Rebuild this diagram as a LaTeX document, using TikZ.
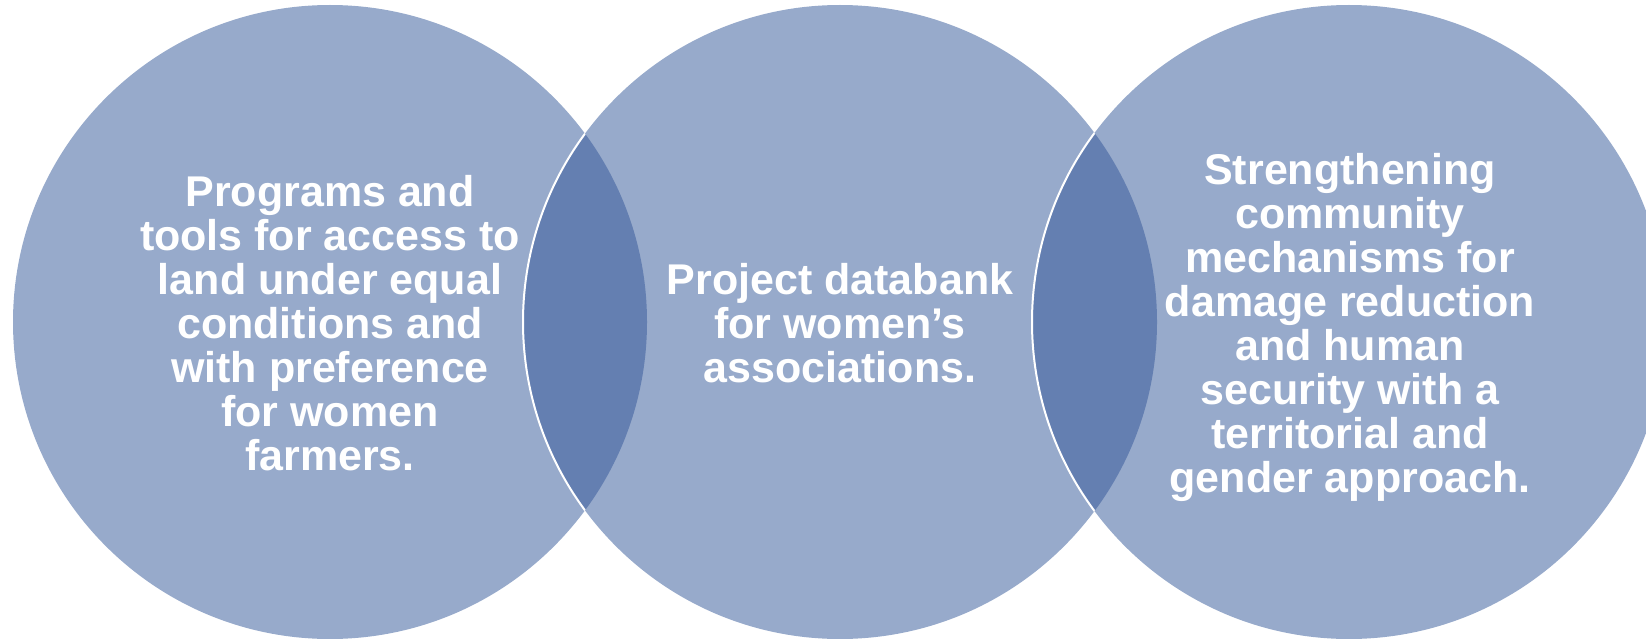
\documentclass[tikz,border=0pt]{standalone}
\usepackage{fontspec}
\setmainfont{Liberation Sans}
\definecolor{lightblue}{HTML}{97AACB}
\definecolor{darkblue}{HTML}{647FB1}
\begin{document}
\begin{tikzpicture}[x=1pt,y=-1pt]
\tikzset{
  lbl/.style={text=white, align=center, inner sep=0pt,
    font=\fontsize{43}{44}\selectfont\bfseries},
  sep/.style={draw=white, line width=2pt}
}
\useasboundingbox (0,0) rectangle (1646,639);
\clip (0,0) rectangle (1646,639);
\coordinate (cL) at (330,322);
\coordinate (cM) at (840,322);
\coordinate (cR) at (1349,322);
% circles
\fill[lightblue] (cL) circle[radius=317pt];
\fill[lightblue] (cM) circle[radius=317pt];
\fill[lightblue] (cR) circle[radius=317pt];
% overlaps
\begin{scope}
  \clip (cL) circle[radius=317pt];
  \fill[darkblue] (cM) circle[radius=317pt];
  \draw[sep] (cM) circle[radius=317pt];
\end{scope}
\begin{scope}
  \clip (cM) circle[radius=317pt];
  \fill[darkblue] (cR) circle[radius=317pt];
  \draw[sep] (cR) circle[radius=317pt];
\end{scope}
% labels
\node[lbl] (tL) at (330,323) {Programs and\\tools for access to\\land under equal\\conditions and\\with preference\\for women\\farmers.};
\node[lbl] (tM) at (840,323) {Project databank\\for women’s\\associations.};
\node[lbl] (tR) at (1350,327) {Strengthening\\community\\mechanisms for\\damage reduction\\and human\\security with a\\territorial and\\gender approach.};
\end{tikzpicture}
\end{document}
